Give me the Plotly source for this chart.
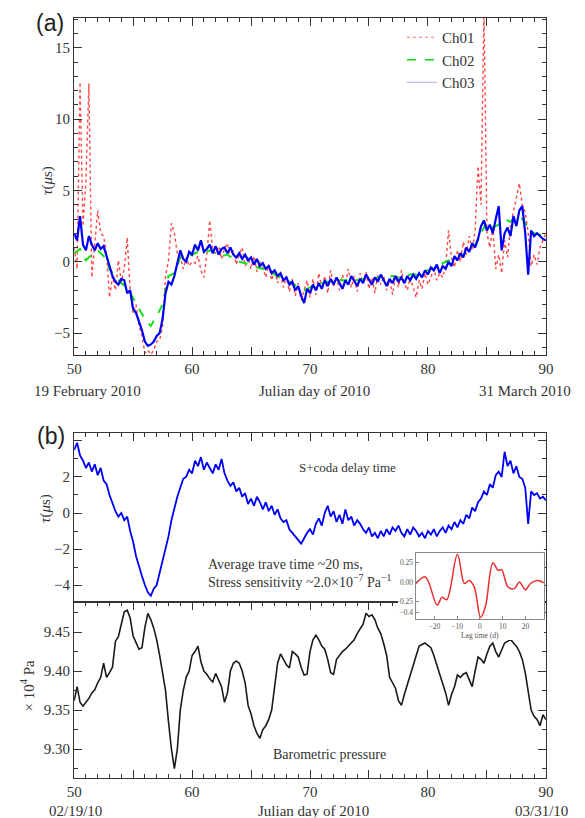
import plotly.graph_objects as go

# ---------------- data ----------------
days_q = [50 + 0.25 * i for i in range(161)]   # 6-hourly sampling grid
days_h = [50 + 0.5 * i for i in range(81)]     # 12-hourly sampling grid

ch01 = [1.0, -0.5, 12.6, 2.5, 5.7, 12.5, -1.1, 1.5,
        3.6, 2.0, 1.8, 0.5, -2.5, -1.0, -2.0, 0.1,
        -1.4, -0.5, 1.7, -2.0, -3.6, -3.0, -4.5, -5.2,
        -6.4, -6.2, -6.5, -6.2, -5.6, -5.5, -4.5, -1.0,
        0.1, 2.7, 2.0, 0.6, 0.4, -0.5, 0.3, -0.3,
        0.0, -0.1, 0.4, -0.6, -1.1, 0.5, 2.9, 0.8,
        0.6, 1.1, 0.2, 0.9, 1.3, 0.3, 0.8, -0.2,
        0.5, 1.0, -0.3, 0.3, -0.5, 0.4, -0.7, 0.0,
        -0.4, -1.1, -0.2, -1.3, -0.5, -1.5, -0.8, -1.8,
        -1.0, -2.1, -1.2, -2.4, -1.5, -2.7, -2.0, -1.3,
        -2.5, -1.2, -2.3, -0.8, -1.9, -1.0, -2.2, -0.6,
        -1.7, -1.2, -2.0, -0.9, -1.6, -0.5, -1.8, -1.0,
        -2.1, -0.8, -1.5, -0.7, -1.9, -1.1, -2.2, -0.9,
        -1.6, -1.0, -2.0, -1.3, -2.3, -1.0, -1.8, -0.6,
        -1.5, -2.0, -1.1, -1.8, -2.5, -1.3, -1.9, -0.8,
        -1.6, -1.1, -0.5, -1.3, -0.8, -1.1, -0.3, 2.2,
        0.3, -0.4, 0.8, 0.0, 1.4, 0.5, 1.8, 0.8,
        2.2, 6.7, 4.0, 18.0, 2.0, 1.0, 2.4, -0.5,
        0.5, -0.8, 1.5, 0.3, 2.5, 3.5, 4.5, 5.5,
        4.0, 3.5, 2.0, -0.3, 0.5, -0.2, 1.0, 1.5,
        2.0]

ch02 = [0.6, 0.9, 0.1, 0.5, 0.8, 0.4, -0.5, -1.0,
        -1.5, -1.8, -2.6, -3.3, -4.0, -4.5, -3.8, -3.0,
        -1.0, -0.8, 0.3, 0.5, 0.5, 0.7, 0.6, 0.8,
        0.6, 0.4, 0.5, 0.2, 0.0, -0.1, -0.2, -0.4,
        -0.5, -0.6, -0.9, -1.1, -1.3, -1.5, -1.8, -2.0,
        -1.8, -1.6, -1.5, -1.4, -1.4, -1.3, -1.3, -1.2,
        -1.3, -1.2, -1.1, -1.2, -1.0, -1.1, -1.0, -1.1,
        -1.0, -0.9, -0.9, -0.7, -0.6, -0.4, -0.2, 0.0,
        0.2, 0.4, 0.5, 0.9, 1.2, 2.0, 2.8, 2.4,
        2.6, 3.0, 2.8, 3.2, 3.0, 2.4, 2.0, 1.9,
        1.8]

ch03 = [2.0, 1.5, 3.2, 1.2, 0.8, 1.8, 1.2, 0.8,
        1.3, 0.9, 1.1, 0.4, -0.3, -1.0, -1.4, -1.6,
        -1.2, -1.3, -2.2, -2.0, -3.3, -3.6, -4.2, -4.8,
        -5.6, -5.9, -5.8, -5.6, -5.2, -5.0, -4.0, -2.2,
        -1.4, -1.6, -1.0, -0.2, 0.8, 0.2, 0.0, 0.7,
        0.5, 1.2, 0.8, 1.5, 0.7, 0.9, 1.2, 0.6,
        1.1, 0.5, 0.9, 1.0, 0.6, 1.0, 0.5, 0.3,
        0.6, 0.2, 0.5, 0.1, 0.3, -0.2, 0.2, -0.3,
        -0.1, -0.5, -0.3, -0.8, -0.6, -1.0, -0.8, -1.3,
        -1.1, -1.6, -1.4, -2.0, -1.7, -2.4, -2.9, -1.9,
        -2.2, -1.6, -2.0, -1.5, -1.9, -1.3, -1.7, -1.2,
        -1.6, -1.1, -1.5, -1.9, -1.3, -1.6, -1.0, -1.4,
        -1.7, -1.2, -1.5, -0.9, -1.3, -1.6, -1.1, -1.4,
        -0.9, -1.3, -1.7, -1.2, -1.5, -1.0, -1.4, -1.1,
        -1.5, -1.0, -1.3, -0.9, -1.2, -0.8, -1.1, -0.6,
        -0.9, -0.4, -0.6, -0.2, -0.8, -0.3, -0.5, 0.0,
        -0.3, 0.4, 0.1, 0.6, 0.3, 1.0, 0.7, 1.3,
        1.0, 1.6, 2.5, 2.9, 2.2, 2.6, 2.0, 3.0,
        3.9, 0.8, 2.0, 2.4, 1.8, 3.2, 2.5, 3.6,
        3.9, 2.0, -0.9, 2.2, 1.8, 2.0, 1.8, 1.6,
        1.5]

tau_b = [3.5, 3.9, 3.2, 2.9, 2.5, 2.8, 2.3, 2.7,
         2.1, 2.5, 1.8, 1.6, 1.0, 0.5, 0.1, -0.2,
         0.0, -0.4, -0.2, -1.0, -1.6, -2.4, -3.0, -3.5,
         -4.0, -4.4, -4.6, -4.2, -4.0, -3.3, -2.7, -1.9,
         -1.3, -0.4, 0.3, 0.9, 1.4, 1.9, 2.0, 2.4,
         2.2, 2.9, 2.6, 3.1, 2.4, 2.8, 2.5, 2.2,
         2.7, 2.4, 3.0, 2.2, 1.8, 1.5, 1.7, 1.2,
         1.4, 0.9, 1.1, 0.5, 0.8, 0.4, 0.9, 0.6,
         0.2, 0.6, 0.1, 0.4, -0.1, 0.2, -0.3, -0.5,
         -0.4, -0.9, -1.1, -1.3, -1.5, -1.7, -1.4, -1.1,
         -0.9, -1.2, -0.6, -0.3, -0.7, 0.0, 0.4, -0.2,
         0.1, -0.5, -0.1, -0.6, 0.2, -0.4, -0.2, -0.7,
         -0.4, -0.6, -0.9, -1.1, -0.8, -1.3, -1.1, -1.4,
         -1.0, -1.3, -0.9, -1.2, -0.8, -1.0, -0.7, -1.1,
         -1.3, -0.9, -1.2, -0.8, -1.0, -1.3, -1.1, -1.4,
         -1.0, -1.2, -0.9, -1.3, -1.0, -0.8, -1.1, -0.7,
         -0.9, -0.5, -0.8, -0.4, -0.6, -0.1, -0.3, 0.3,
         0.1, 0.6, 0.8, 1.2, 1.0, 1.6, 1.4, 2.1,
         2.3, 2.0, 3.4, 2.6, 2.9, 2.2, 2.6, 2.0,
         1.9, 1.4, -0.6, 1.2, 1.0, 1.1, 0.8, 0.9,
         0.7]

pressure = [9.362, 9.380, 9.360, 9.355, 9.360, 9.365, 9.372, 9.376,
            9.385, 9.392, 9.410, 9.392, 9.398, 9.405, 9.438, 9.444,
            9.460, 9.476, 9.478, 9.468, 9.445, 9.436, 9.428, 9.430,
            9.456, 9.474, 9.466, 9.455, 9.440, 9.420, 9.400, 9.375,
            9.335, 9.300, 9.275, 9.300, 9.350, 9.375, 9.392, 9.400,
            9.420, 9.425, 9.432, 9.412, 9.400, 9.396, 9.390, 9.386,
            9.397, 9.388, 9.380, 9.360, 9.372, 9.400, 9.410, 9.413,
            9.410, 9.400, 9.385, 9.356, 9.345, 9.330, 9.320, 9.314,
            9.325, 9.330, 9.338, 9.350, 9.380, 9.410, 9.422, 9.415,
            9.408, 9.404, 9.425, 9.422, 9.418, 9.405, 9.395, 9.396,
            9.425, 9.440, 9.446, 9.440, 9.432, 9.428, 9.415, 9.398,
            9.396, 9.415, 9.420, 9.425, 9.428, 9.432, 9.436, 9.440,
            9.448, 9.455, 9.460, 9.474, 9.470, 9.472, 9.466, 9.455,
            9.448, 9.435, 9.420, 9.392, 9.384, 9.378, 9.362, 9.356,
            9.370, 9.382, 9.395, 9.406, 9.420, 9.432, 9.434, 9.436,
            9.433, 9.430, 9.420, 9.408, 9.396, 9.386, 9.372, 9.356,
            9.370, 9.380, 9.395, 9.392, 9.396, 9.398, 9.390, 9.380,
            9.400, 9.418, 9.415, 9.410, 9.422, 9.432, 9.436, 9.425,
            9.418, 9.428, 9.436, 9.438, 9.441, 9.436, 9.432, 9.425,
            9.415, 9.398, 9.375, 9.350, 9.342, 9.338, 9.330, 9.344,
            9.338]

lag = [-28, -24, -18.8, -16.7, -14.6, -9.9, -6.8, -4.7, -2.5, 0.3, 2.4,
       5.7, 8, 9.5, 12.3, 15.1, 17.3, 20, 22.2, 25, 28]
xcorr = [-0.02, 0.065, -0.30, -0.20, -0.23, 0.36, -0.02, 0.02, -0.065, -0.46, -0.32,
         0.25, 0.15, 0.16, -0.065, -0.086, 0.0, -0.1, -0.02, 0.02, -0.01]

day_ticks = [50, 55, 60, 65, 70, 75, 80, 85, 90]
day_ticktext = ["50", "", "60", "", "70", "", "80", "", "90"]

# ---------------- figure ----------------
W, H = 585, 818
SERIF = "Liberation Serif"
INK = "#333333"


def px(x):
    return x / W


def py(y):
    return 1 - y / H


fig = go.Figure()

fig.add_trace(go.Scatter(x=days_q, y=ch01, mode="lines", showlegend=False,
                         line=dict(color="rgb(255,70,70)", width=1.4, dash="dot"),
                         xaxis="x", yaxis="y"))
fig.add_trace(go.Scatter(x=days_h, y=ch02, mode="lines", showlegend=False,
                         line=dict(color="rgb(20,225,20)", width=2, dash="dash"),
                         xaxis="x", yaxis="y"))
fig.add_trace(go.Scatter(x=days_q, y=ch03, mode="lines", showlegend=False,
                         line=dict(color="rgb(0,0,245)", width=2.2),
                         xaxis="x", yaxis="y"))
# legend entries (thin samples as in the reference)
fig.add_trace(go.Scatter(x=[None], y=[None], mode="lines", name="Ch01",
                         line=dict(color="rgb(255,110,110)", width=1, dash="dot"),
                         xaxis="x", yaxis="y"))
fig.add_trace(go.Scatter(x=[None], y=[None], mode="lines", name="Ch02",
                         line=dict(color="rgb(20,210,20)", width=1.3, dash="dash"),
                         xaxis="x", yaxis="y"))
fig.add_trace(go.Scatter(x=[None], y=[None], mode="lines", name="Ch03",
                         line=dict(color="rgb(170,170,235)", width=1),
                         xaxis="x", yaxis="y"))

fig.add_trace(go.Scatter(x=days_q, y=tau_b, mode="lines", showlegend=False,
                         line=dict(color="rgb(0,0,245)", width=1.8),
                         xaxis="x2", yaxis="y2"))
fig.add_trace(go.Scatter(x=days_q, y=pressure, mode="lines", showlegend=False,
                         line=dict(color="#1a1a1a", width=1.6),
                         xaxis="x3", yaxis="y3"))
# blank cover panel behind the inset
fig.add_trace(go.Scatter(x=[None], y=[None], mode="lines", showlegend=False,
                         hoverinfo="skip", xaxis="x4", yaxis="y4"))
fig.add_trace(go.Scatter(x=lag, y=xcorr, mode="lines", showlegend=False,
                         line=dict(color="rgb(235,45,45)", width=1.5, shape="spline"),
                         xaxis="x5", yaxis="y5"))

tickfont = dict(family=SERIF, size=15, color=INK)
base = dict(showline=True, linecolor=INK, linewidth=1.3, ticks="inside",
            tickcolor=INK, tickwidth=1.2, ticklen=8, showgrid=False,
            zeroline=False, tickfont=tickfont)
xminor = dict(ticks="inside", ticklen=4, tickcolor=INK, tickwidth=1,
              tick0=50, dtick=1, showgrid=False)

XD = [px(68), px(553)]

fig.update_layout(
    width=W, height=H,
    margin=dict(l=0, r=0, t=0, b=0),
    paper_bgcolor="white", plot_bgcolor="white",
    showlegend=True,
    legend=dict(x=px(405), y=py(21), xanchor="left", yanchor="top",
                bgcolor="rgba(0,0,0,0)", borderwidth=0,
                font=dict(family=SERIF, size=15, color=INK)),
    xaxis=dict(base, domain=XD, anchor="y", range=[50, 90], mirror="ticks",
               tickmode="array", tickvals=day_ticks, ticktext=day_ticktext,
               minor=xminor),
    yaxis=dict(base, domain=[py(355), py(18)], anchor="x", range=[-6.54, 17.1],
               mirror="ticks", tickmode="array",
               tickvals=[-5, 0, 5, 10, 15],
               ticktext=["\u22125", "0", "5", "10", "15"],
               minor=dict(ticks="inside", ticklen=4, tickcolor=INK, tickwidth=1,
                          tick0=0, dtick=1, showgrid=False)),
    xaxis2=dict(base, domain=XD, anchor="y2", range=[50, 90], side="top",
                mirror=True, showticklabels=False,
                tickmode="array", tickvals=day_ticks, minor=xminor),
    yaxis2=dict(base, domain=[py(602), py(433)], anchor="x2", range=[-4.94, 4.44],
                mirror="ticks", tickmode="array",
                tickvals=[-4, -2, 0, 2, 4],
                ticktext=["\u22124", "\u22122", "0", "2", ""],
                minor=dict(ticks="inside", ticklen=4, tickcolor=INK, tickwidth=1,
                           tick0=0, dtick=1, showgrid=False)),
    xaxis3=dict(base, domain=XD, anchor="y3", range=[50, 90], mirror="ticks",
                tickmode="array", tickvals=day_ticks, ticktext=day_ticktext,
                minor=xminor),
    yaxis3=dict(base, domain=[py(778), py(602)], anchor="x3", range=[9.263, 9.4885],
                mirror="ticks", tickmode="array",
                tickvals=[9.30, 9.35, 9.40, 9.45],
                ticktext=["9.30", "9.35", "9.40", "9.45"],
                minor=dict(ticks="inside", ticklen=4, tickcolor=INK, tickwidth=1,
                           tick0=9.25, dtick=0.025, showgrid=False)),
    xaxis4=dict(domain=[px(401), px(551)], anchor="y4", range=[0, 1], visible=False),
    yaxis4=dict(domain=[py(640), py(546)], anchor="x4", range=[0, 1], visible=False),
    xaxis5=dict(domain=[px(419), px(551)], anchor="y5", range=[-28.3, 28.1],
                showline=True, linecolor="#888", linewidth=1, mirror=True,
                ticks="inside", ticklen=3, tickcolor="#888", tickwidth=0.8,
                showgrid=False, zeroline=False,
                tickmode="array", tickvals=[-20, -10, 0, 10, 20],
                ticktext=["\u221220", "\u221210", "0", "10", "20"],
                tickfont=dict(family=SERIF, size=7.5, color="#555"),
                title=dict(text="Lag time (d)", standoff=1,
                           font=dict(family=SERIF, size=7.5, color="#555"))),
    yaxis5=dict(domain=[py(619), py(553)], anchor="x5", range=[-0.48, 0.375],
                showline=True, linecolor="#888", linewidth=1, mirror=True,
                ticks="inside", ticklen=3, tickcolor="#888", tickwidth=0.8,
                showgrid=False, zeroline=False,
                tickmode="array", tickvals=[0.25, 0, -0.25, -0.4],
                ticktext=["0.25", "0.00", "\u22120.25", "\u22120.4"],
                tickfont=dict(family=SERIF, size=7.5, color="#555")),
)

def ann(text, x, y, size=15, family=SERIF, xanchor="center", angle=0, color=INK):
    fig.add_annotation(text=text, x=px(x), y=py(y), xref="paper", yref="paper",
                       showarrow=False, xanchor=xanchor, yanchor="middle",
                       textangle=angle, font=dict(family=family, size=size, color=color))

ann("(a)", 43, 23, size=23, family="Liberation Sans", color="#222")
ann("(b)", 44, 436, size=23, family="Liberation Sans", color="#222")
ann("<i>\u03c4</i>(<i>\u03bc</i>s)", 40, 180, angle=-90)
ann("<i>\u03c4</i>(<i>\u03bc</i>s)", 38, 508, angle=-90)
ann("\u00d7 10<sup>4</sup> Pa", 20, 685, angle=-90)
ann("19 February 2010", 82, 391)
ann("Julian day of 2010", 315, 391)
ann("31 March 2010", 532, 391)
ann("02/19/10", 69, 811)
ann("Julian day of 2010", 314, 811)
ann("03/31/10", 548, 811)
ann("S+coda delay time", 349, 467, size=13)
ann("Average trave time ~20 ms,", 204, 564, size=14, xanchor="left")
ann("Stress sensitivity ~2.0\u00d710<sup>\u22127</sup> Pa<sup>\u22121</sup>", 204, 581,
    size=14, xanchor="left")
ann("Barometric pressure", 331, 754, size=14)

fig.write_html("out.html",
               config={"displayModeBar": False},
               post_script="document.body.style.margin='0';"
                           "document.body.style.overflow='hidden';")
